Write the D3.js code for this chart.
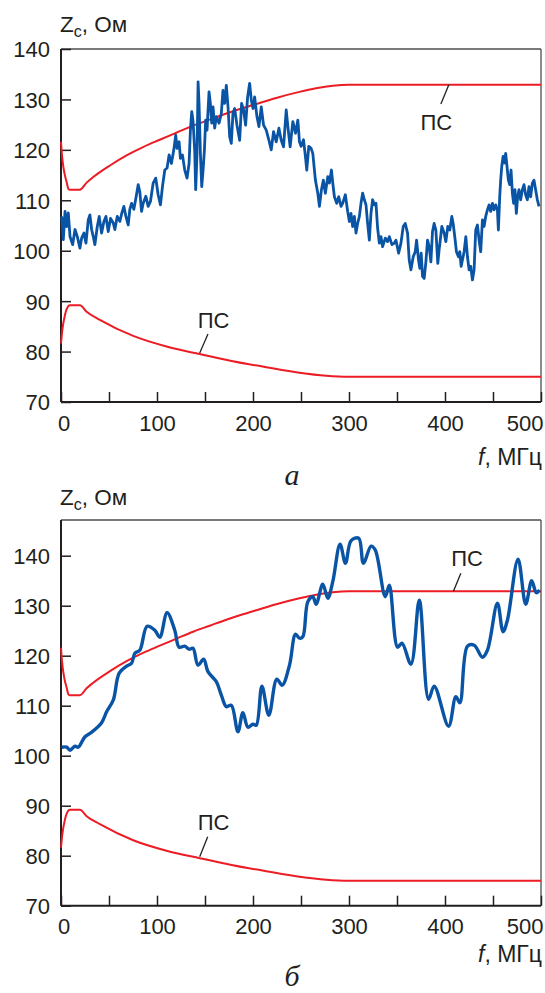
<!DOCTYPE html>
<html><head><meta charset="utf-8">
<script src="https://cdn.jsdelivr.net/npm/d3@7"></script>
<style>
body{margin:0;background:#fff}
svg{display:block}
text{font-family:"Liberation Sans",Arial,Helvetica,sans-serif;fill:#231f20}
</style>
</head><body>
<svg id="c" width="545" height="993"></svg>
<script>
// ---- ticks ----
const xTicks = [0,50,100,150,200,250,300,350,400,450,500];
const xLabels = [0,100,200,300,400,500];
const yTicks = [70,80,90,100,110,120,130,140];

// ---- boundary curves (ПС), same in both panels ----
const redUpperF = [0,1,2.4,4,5.9,7.6,9,19.7,26.7,33.6,51,68.3,86,102.9,120.2,137.6,154.9,172.2,189.5,206.9,224.2,248.4,265.7,283.1,300,500];
const redUpperZ = [121.6,119,116.7,115,113.6,112.3,112.1,112.1,113.5,114.6,116.9,118.9,120.6,122.0,123.4,124.8,126.0,127.2,128.3,129.3,130.3,131.5,132.2,132.7,132.9,132.9];
const redLowerF = [0,1.4,4.2,7.6,9.4,19.7,26.7,40.5,75.2,109.9,144.5,179,213.8,248.4,276.2,300,500];
const redLowerZ = [81.6,84.3,87.3,89.0,89.2,89.2,87.9,86.3,83.1,81.0,79.5,78.1,76.9,75.8,75.2,75.0,75.0];

// ---- panel а: measured impedance ----
const blueAF = [0.7,2.4,4.2,5.9,7.6,9.4,12.1,14.6,17.0,19.7,21.5,23.9,26.0,28.4,30.1,31.9,33.6,35.3,37.8,39.8,42.3,44.7,46.8,49.2,51.6,54.4,56.1,58.6,61.3,63.4,65.5,67.6,70.0,71.7,73.5,75.9,78.0,80.4,82.1,83.9,85.6,88.4,90.8,93.2,96.0,98.7,101.2,103.6,105.7,108.1,110.5,112.6,115.0,117.5,119.5,120.9,123.0,124.4,126.5,128.9,131.3,133.4,134.8,136.2,137.6,139.3,140.3,141.7,142.8,143.8,145.2,146.6,148.0,149.4,150.7,152.1,154.2,155.6,157.0,158.4,160.1,161.8,164.6,167.0,168.7,170.5,172.2,174.0,175.7,177.4,179.1,180.9,183.3,186.1,188.1,190.2,192.3,194.4,196.5,198.2,200.0,201.7,204.1,206.2,208.6,211.0,213.8,216.6,219.0,221.4,224.2,227.0,229.4,231.8,234.6,236.7,238.7,241.5,244.3,246.7,248.4,250.1,252.6,254.6,256.0,258.1,260.5,262.3,265.0,267.5,269.2,271.3,273.3,275.4,277.9,279.6,281.7,283.1,284.8,287.2,289.3,291.7,293.4,296.2,298.6,300.4,302.1,303.8,305.6,307.3,309.0,310.8,312.5,314.2,316.0,317.7,319.4,321.2,322.9,324.6,326.4,328.1,329.8,331.6,333.3,335.0,337.8,340.2,342.0,344.7,347.2,348.9,351.7,354.1,356.5,358.6,361.0,362.7,364.5,366.9,369.0,370.4,372.4,373.8,375.2,376.6,378.3,380.1,381.8,383.5,385.3,387.0,388.7,390.5,392.5,393.9,396.7,399.1,400.9,402.9,405.0,407.1,408.5,410.6,411.9,414.0,415.4,416.8,418.2,419.9,421.7,423.4,425.1,426.8,428.6,430.3,432.0,433.8,435.5,437.2,439.0,440.7,442.4,444.2,445.9,447.6,449.4,451.1,452.8,454.6,455.6,457.0,458.0,459.1,460.5,461.8,463.2,464.6,466.0,467.4,468.8,470.2,471.5,472.9,474.3,475.7,477.1,478.8,480.6,482.3,484.0,485.8,487.5,489.2,491.0,492.7,494.4,496.2,497.9];
const blueAZ = [106.8,102.2,107.8,104.8,107.5,102.8,101.2,104.2,102.8,100.5,102.5,103.5,101.5,106.1,107.1,104.2,102.8,101.2,104.8,106.8,103.5,105.8,106.8,103.8,106.4,105.5,104.2,106.8,105.8,107.5,108.8,106.8,105.1,108.2,109.4,108.2,110.4,113.1,111.7,107.8,109.4,110.8,108.8,109.8,113.4,114.4,111.1,109.1,112.7,116.0,116.4,119.0,117.3,120.0,122.9,120.3,121.6,118.3,119.0,116.0,114.4,117.3,123.9,127.6,125.6,119.7,112.1,119.3,133.5,129.2,119.3,112.7,116.0,120.0,125.9,123.9,131.5,129.2,125.3,128.5,124.3,126.6,125.3,127.2,131.8,129.2,132.8,128.5,122.6,121.3,127.2,128.2,124.9,121.9,129.2,127.9,124.9,130.5,133.2,129.9,128.2,130.5,126.6,124.6,128.5,124.9,123.9,121.9,120.0,123.6,121.6,124.3,121.9,120.6,127.9,123.9,120.6,125.6,123.3,125.9,121.6,120.7,122.0,118.7,116.0,120.7,120.3,119.3,114.0,111.4,108.8,112.1,114.0,111.4,114.7,113.4,116.0,113.4,110.7,109.4,110.7,108.8,109.4,111.1,107.8,105.8,107.4,104.8,106.8,103.5,105.4,106.8,109.4,111.4,110.1,109.1,105.4,102.1,107.4,110.1,109.1,109.4,104.5,101.5,102.8,100.8,102.5,101.8,102.8,101.2,101.5,102.1,99.5,101.5,104.8,105.4,103.5,98.2,96.2,98.8,99.8,102.1,98.2,96.5,99.5,94.9,94.5,97.8,102.1,100.8,97.8,103.8,105.4,104.1,97.5,100.2,104.8,103.5,101.8,104.8,104.1,106.8,105.4,102.1,99.8,98.8,99.8,96.9,98.2,99.8,102.8,98.8,96.2,96.9,94.2,96.2,104.1,105.1,102.1,99.8,106.1,104.8,106.8,108.1,109.1,107.8,109.4,108.1,109.1,108.1,104.1,110.7,114.0,116.7,118.7,117.4,119.3,116.7,114.0,113.1,116.0,111.4,109.4,112.1,107.4,110.7,112.1,110.1,112.1,113.1,111.1,110.1,112.7,110.7,113.4,114.0,112.1,110.1,108.8];

// ---- panel б: computed impedance ----
const blueBF = [0.7,5.9,9.4,14.6,18.0,25.0,31.9,42.3,47.5,54.4,60.6,68.3,73.5,76.9,82.1,89.7,97.7,102.9,110.5,118.5,123.0,128.9,133.4,137.5,142.7,148.6,153.1,161.8,167.0,172.2,177.4,184.3,189.5,194.7,199.9,203.4,209.3,216.5,224.8,230.4,238.0,244.3,248.4,251.9,257.1,262.3,265.8,272.7,277.9,283.1,290.7,296.3,302.2,310.1,315.0,323.0,327.4,337.8,342.0,350.6,355.2,364.5,373.2,382.9,388.8,403.7,411.3,415.5,423.4,430.4,439.0,444.2,454.6,460.5,465.0,476.1,484.1,490.3,495.1,498.6];
const blueBZ = [101.7,101.7,101.1,101.9,101.7,103.8,104.7,106.6,108.8,111.1,116.5,117.9,118.5,120.5,121.1,125.9,125.1,123.7,128.6,125.1,121.7,121.9,121.3,121.5,118.1,119.3,116.8,114.8,112.1,109.8,110.1,104.8,108.6,105.7,106.3,106.1,113.9,108.1,115.3,114.1,118.1,124.3,123.5,123.8,130.8,131.8,130.3,134.3,131.5,134.8,142.3,138.5,143.0,143.5,138.5,141.9,141.1,131.8,134.1,121.7,122.5,118.3,131.1,111.3,113.9,105.9,111.8,110.6,121.9,122.1,119.7,121.1,130.5,124.8,127.1,139.3,130.3,135.0,132.6,133.1];

const RED = "#ec1c24", BLUE = "#0a54a5", INK = "#231f20";
const FS = 22;
const svg = d3.select("#c");
const x = d3.scaleLinear().domain([0,500]).range([61,541]);
const zip = (F,Z) => F.map((f,i)=>[f,Z[i]]);

function panel(o){
  const y = d3.scaleLinear().domain(o.yDomain).range([o.bottom,o.top]);
  const g = svg.append("g");
  g.append("line").attr("x1",61).attr("x2",541).attr("y1",o.top).attr("y2",o.top)
    .attr("stroke","#4d4d4d").attr("stroke-width",1.3);
  g.append("line").attr("x1",541).attr("x2",541).attr("y1",o.top).attr("y2",o.bottom)
    .attr("stroke","#4d4d4d").attr("stroke-width",1.3);
  const xa = g.append("g").attr("transform",`translate(0,${o.bottom})`)
    .call(d3.axisBottom(x).tickValues(xTicks).tickSize(-10).tickPadding(14)
      .tickFormat(d=>xLabels.includes(d)?String(d):""));
  const ya = g.append("g").attr("transform","translate(61,0)")
    .call(d3.axisLeft(y).tickValues(yTicks).tickSize(-10).tickPadding(11));
  [xa,ya].forEach(a=>{
    a.select(".domain").attr("stroke",INK).attr("stroke-width",2);
    a.selectAll(".tick line").attr("stroke",INK).attr("stroke-width",1.5);
    a.selectAll(".tick text").attr("font-size",FS).attr("fill",INK)
      .style("font-family",'"Liberation Sans",Arial,sans-serif');
  });
  xa.select(".domain").attr("d",`M61,0H541`);
  ya.select(".domain").attr("d",`M0,${o.top}V${o.bottom}`);
  xa.selectAll(".tick text").attr("dy","0.66em");
  xa.selectAll(".tick").filter(d=>d===500).select("text").attr("text-anchor","end").attr("x",2);
  xa.selectAll(".tick").filter(d=>d===0).select("text").attr("x",2.5);
  ya.selectAll(".tick text").attr("dy","0.36em");

  const line = d3.line().x(d=>x(d[0])).y(d=>y(d[1]));
  g.append("path").datum(zip(redUpperF,redUpperZ)).attr("fill","none").attr("stroke",RED)
    .attr("stroke-width",2).attr("d",line.curve(d3.curveMonotoneX));
  g.append("path").datum(zip(redLowerF,redLowerZ)).attr("fill","none").attr("stroke",RED)
    .attr("stroke-width",2).attr("d",line.curve(d3.curveMonotoneX));
  g.append("path").datum(zip(o.bF,o.bZ)).attr("fill","none").attr("stroke",BLUE)
    .attr("stroke-width",o.bw).attr("stroke-linejoin","round")
    .attr("d",line.curve(o.curve));

  o.notes.forEach(n=>{
    g.append("line").attr("x1",x(n.p[0])).attr("y1",y(n.p[1])).attr("x2",x(n.q[0])).attr("y2",y(n.q[1]))
      .attr("stroke",INK).attr("stroke-width",1.3);
    g.append("text").attr("x",x(n.t[0])).attr("y",y(n.t[1])).attr("text-anchor","middle")
      .attr("font-size",FS).text("ПС");
  });

  const zt = g.append("text").attr("x",60).attr("y",o.zY).attr("font-size",22.5);
  zt.append("tspan").text("Z");
  zt.append("tspan").attr("font-size",16).attr("dy",5).text("с");
  zt.append("tspan").attr("dy",-5).text(", Ом");
  const ft = g.append("text").attr("x",542).attr("y",o.fY).attr("text-anchor","end").attr("font-size",23);
  ft.append("tspan").attr("font-style","italic").text("f");
  ft.append("tspan").text(", МГц");
  g.append("text").attr("x",292).attr("y",o.lY).attr("text-anchor","middle")
    .attr("font-size",30).attr("font-style","italic")
    .style("font-family",'"Liberation Serif","Times New Roman",serif').text(o.letter);
}

panel({top:49,bottom:402,yDomain:[70,140],bF:blueAF,bZ:blueAZ,bw:2.8,curve:d3.curveLinear,
  zY:32,fY:465,lY:485,letter:"а",
  notes:[{p:[404,132.9],q:[395.7,129.1],t:[391,124.0]},{p:[144.5,79.7],q:[153.1,83.5],t:[159,84.7]}]});
panel({top:520,bottom:905.7,yDomain:[70,147.14],bF:blueBF,bZ:blueBZ,bw:3.4,curve:d3.curveCatmullRom.alpha(0.5),
  zY:505,fY:962,lY:986,letter:"б",
  notes:[{p:[408.8,132.9],q:[416.5,136.5],t:[423,137.9]},{p:[144.5,79.8],q:[152.8,83.8],t:[159,85.1]}]});
</script>
</body></html>
